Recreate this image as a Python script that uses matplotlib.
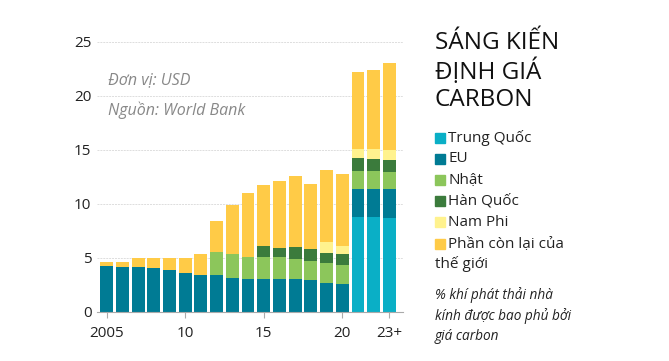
import matplotlib.pyplot as plt
import numpy as np

plt.rcParams['font.family'] = ['Open Sans', 'DejaVu Sans']

years = list(range(2005, 2024))
tick_years = [2005, 2010, 2015, 2020, 2023]
tick_labels = ['2005', '10', '15', '20', '23+']

# cumulative tops
china = [0]*16 + [8.73, 8.73, 8.67]
eu_top = [4.23, 4.14, 4.14, 4.01, 3.83, 3.61, 3.43, 3.43, 3.15, 3.0, 3.0, 3.0, 3.0, 2.9, 2.69, 2.56,
          11.39, 11.39, 11.33]
japan_top = [4.23, 4.14, 4.14, 4.01, 3.83, 3.61, 3.43, 5.52, 5.34, 5.03, 5.03, 5.06, 4.85, 4.69, 4.54, 4.35,
             13.02, 13.02, 12.93]
korea_top = [4.23, 4.14, 4.14, 4.01, 3.83, 3.61, 3.43, 5.52, 5.34, 5.03, 6.08, 5.93, 6.02, 5.77, 5.46, 5.31,
             14.20, 14.17, 14.07]
safrica_top = [4.23, 4.14, 4.14, 4.01, 3.83, 3.61, 3.43, 5.52, 5.34, 5.03, 6.08, 5.93, 6.02, 5.77, 6.42, 6.08,
               15.03, 15.03, 15.0]
total = [4.63, 4.63, 4.97, 4.97, 4.97, 4.97, 5.31, 8.36, 9.85, 10.96, 11.70, 12.13, 12.56, 11.85, 13.12, 12.78,
         22.16, 22.35, 23.02]

names = ['Trung Quốc', 'EU', 'Nhật', 'Hàn Quốc', 'Nam Phi', 'Phần còn lại của\nthế giới']
colors = ['#0AAFC6', '#007B94', '#8CC65B', '#3B7B3C', '#FFF28E', '#FFCB47']

tops = [np.array(china), np.array(eu_top), np.array(japan_top), np.array(korea_top),
        np.array(safrica_top), np.array(total)]

fig = plt.figure(figsize=(6.69, 3.61), dpi=100)
ax = fig.add_axes([97/669, 1 - 311.7/361, 306/669, 270/361])

x = np.array(years)
bottom = np.zeros(len(years))
for top, c in zip(tops, colors):
    ax.bar(x, top - bottom, bottom=bottom, width=0.82, color=c, linewidth=0)
    bottom = top

ax.set_ylim(0, 25)
ax.set_xlim(2005 - 0.62, 2005 + 18.87)
ax.set_yticks([0, 5, 10, 15, 20, 25])
ax.yaxis.grid(True, color='#dddddd', linestyle=(0, (2, 1)), linewidth=0.7)
ax.set_axisbelow(True)
ax.set_xticks(tick_years)
ax.set_xticklabels(tick_labels)
for s in ['top', 'right', 'left']:
    ax.spines[s].set_visible(False)
ax.spines['bottom'].set_color('#aaaaaa')
ax.tick_params(axis='y', length=0, pad=4, labelsize=11, labelcolor='#222222')
ax.tick_params(axis='x', length=4, color='#aaaaaa', pad=6, labelsize=11, labelcolor='#222222')

ax.text(2005.1, 21.1, 'Đơn vị: USD', fontsize=11.5, style='italic', color='#888888')
ax.text(2005.1, 18.2, 'Nguồn: World Bank', fontsize=11.5, style='italic', color='#888888')

fig.text(435/669, 1 - 31/361, 'SÁNG KIẾN\nĐỊNH GIÁ\nCARBON', fontsize=17.5, va='top',
         color='#111111', linespacing=1.18)

leg_y = [138, 159, 180, 201, 222, 244]
for name, c, yy in zip(names, colors, leg_y):
    fig.patches.append(plt.Rectangle((435/669, 1 - (yy + 5)/361), 10/669, 10/361,
                                     color=c, transform=fig.transFigure, figure=fig))
    lines = name.split('\n')
    fig.text(448/669, 1 - yy/361, lines[0], fontsize=11, va='center', color='#222222')
    if len(lines) > 1:
        fig.text(435/669, 1 - (yy + 20)/361, lines[1], fontsize=11, va='center', color='#222222')

fig.text(435/669, 1 - 287/361, '% khí phát thải nhà\nkính được bao phủ bởi\ngiá carbon',
         fontsize=9.8, style='italic', va='top', color='#222222', linespacing=1.45)

fig.savefig('out.png', dpi=100)
